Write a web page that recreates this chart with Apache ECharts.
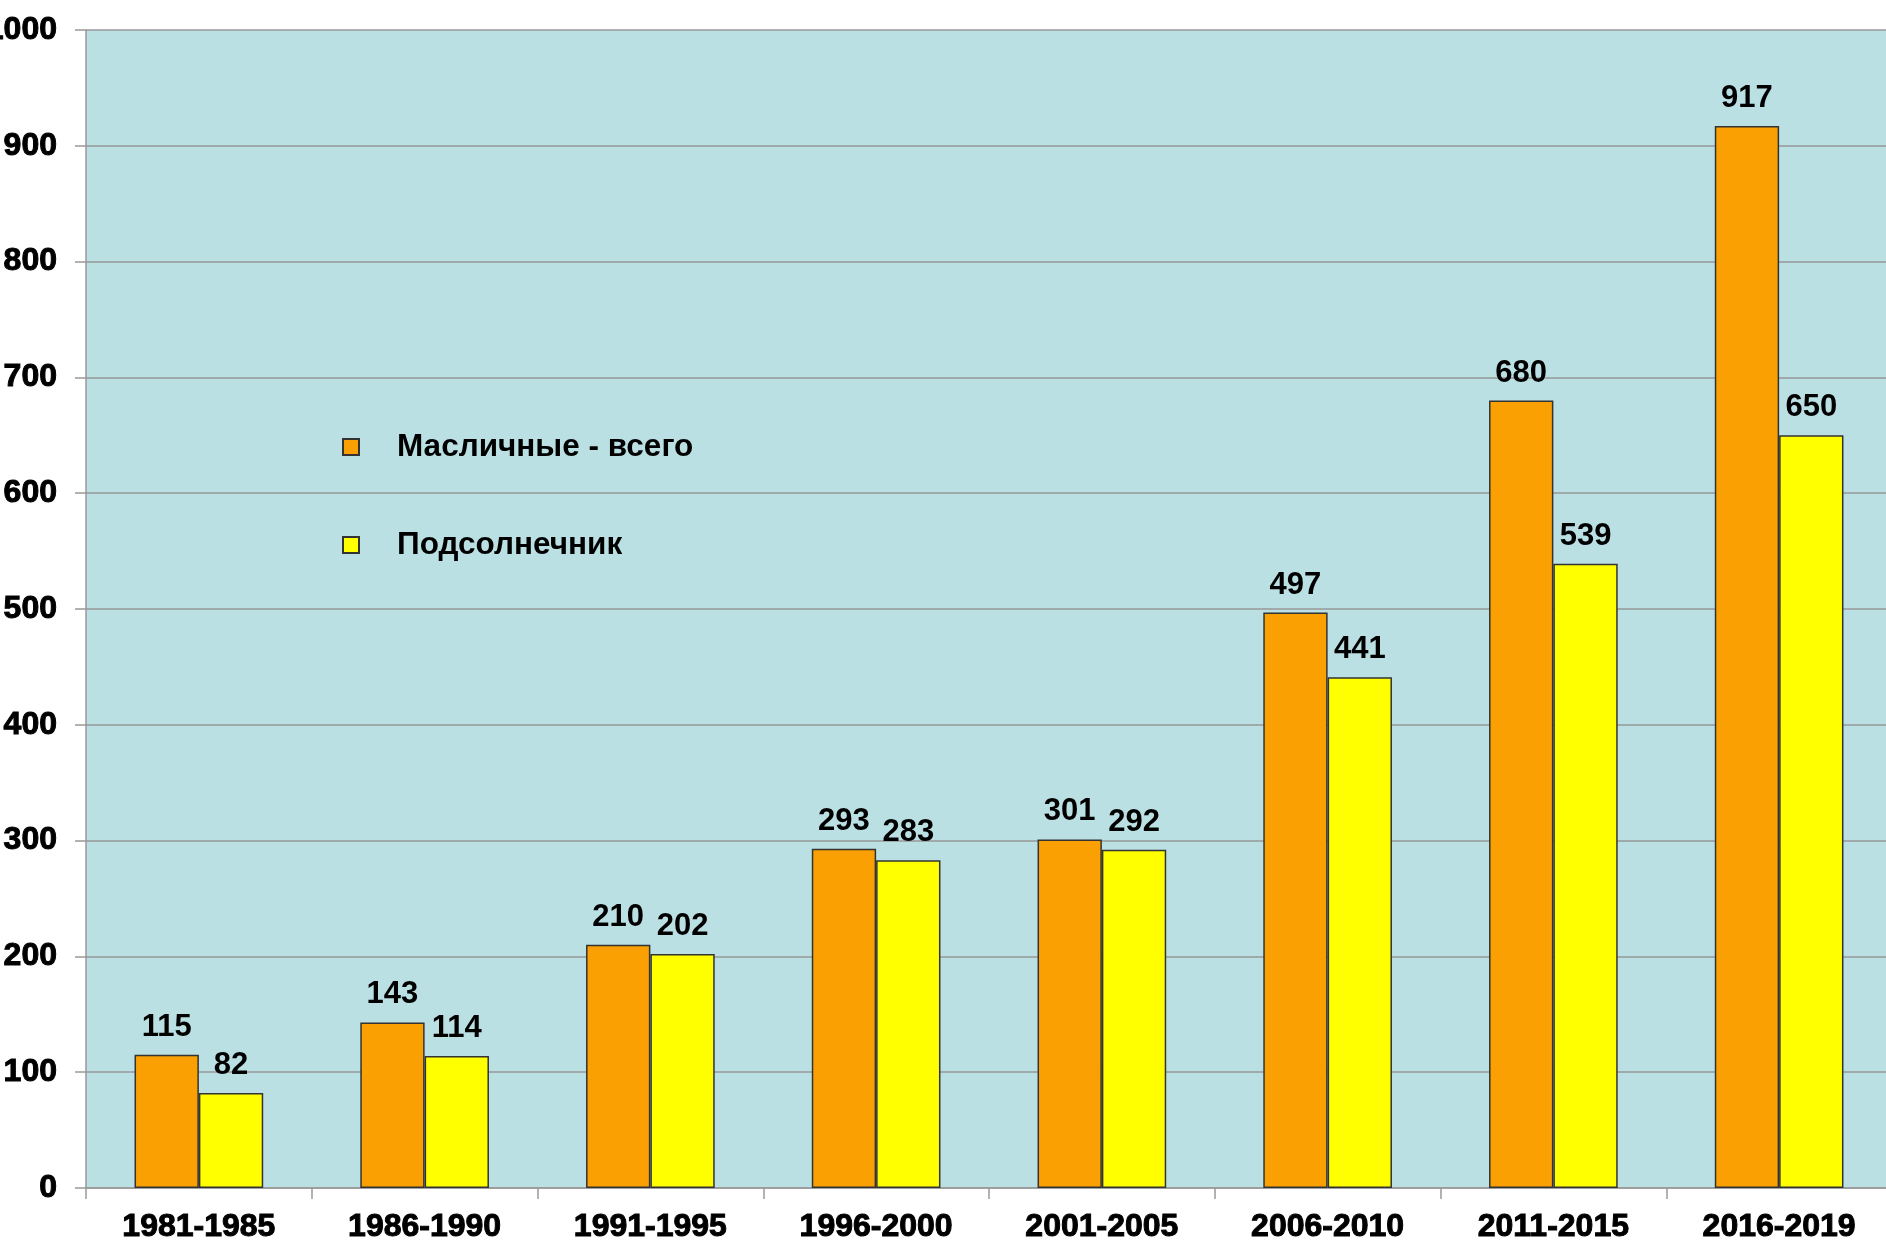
<!DOCTYPE html>
<html>
<head>
<meta charset="utf-8">
<script src="https://cdn.jsdelivr.net/npm/echarts@6/dist/echarts.min.js"></script>
<style>
  html, body { margin: 0; padding: 0; background: #fff; }
  #chart { width: 1886px; height: 1243px; }
</style>
</head>
<body>
<div id="chart"></div>
<script>
// периоды
const periods = ['1981-1985', '1986-1990', '1991-1995', '1996-2000', '2001-2005', '2006-2010', '2011-2015', '2016-2019']
// масличные - всего
const oilseedsTotal = [115, 143, 210, 293, 301, 497, 680, 917]
// подсолнечник
const sunflower = [82, 114, 202, 283, 292, 441, 539, 650]
const seriesNames = ['Масличные - всего', 'Подсолнечник']

const font = 'Liberation Sans, Arial, sans-serif'
const gray = '#999999'

let mycharts = echarts.init(document.getElementById('chart'))
var option = {
  backgroundColor: '#ffffff',
  animation: false,
  grid: {
    left: 86,
    top: 30,
    right: -6,
    bottom: 55,
    outerBoundsMode: 'none',
    show: true,
    backgroundColor: '#BBE0E3',
    borderWidth: 0,
  },
  legend: {
    orient: 'vertical',
    left: 337,
    top: 426,
    icon: 'rect',
    itemWidth: 16,
    itemHeight: 16,
    itemGap: 66,
    data: seriesNames,
    textStyle: {
      fontFamily: font,
      fontWeight: 'bold',
      fontSize: 31.5,
      lineHeight: 32,
      color: '#000',
      padding: [0, 0, 0, 33],
    },
  },
  xAxis: {
    type: 'category',
    data: periods,
    axisLine: { lineStyle: { color: gray, width: 1.5 } },
    axisTick: { show: true, length: 11, interval: 0, lineStyle: { color: gray, width: 1.5 } },
    axisLabel: {
      interval: 0,
      margin: 23,
      fontFamily: font,
      fontWeight: 'bold',
      fontSize: 32,
      lineHeight: 32,
      color: '#000',
      textBorderColor: '#000',
      textBorderWidth: 1,
    },
  },
  yAxis: {
    type: 'value',
    min: 0,
    max: 1000,
    interval: 100,
    axisLine: { show: true, lineStyle: { color: gray, width: 1.5 } },
    axisTick: { show: true, length: 11, lineStyle: { color: gray, width: 1.5 } },
    splitLine: { show: true, lineStyle: { color: gray, width: 1.5 } },
    axisLabel: {
      margin: 29,
      formatter: (v) => String(v),
      fontFamily: font,
      fontWeight: 'bold',
      fontSize: 32,
      color: '#000',
      textBorderColor: '#000',
      textBorderWidth: 1,
    },
  },
  series: [
    {
      name: seriesNames[0],
      type: 'bar',
      data: oilseedsTotal,
      barGap: '0%',
      barCategoryGap: '43%',
      itemStyle: { color: '#FAA002', borderColor: '#333333', borderWidth: 1.5 },
      label: {
        show: true,
        position: 'top',
        distance: 12,
        fontFamily: font,
        fontWeight: 'bold',
        fontSize: 31,
        color: '#000',
      },
    },
    {
      name: seriesNames[1],
      type: 'bar',
      data: sunflower,
      barGap: '0%',
      barCategoryGap: '43%',
      itemStyle: { color: '#FFFF00', borderColor: '#333333', borderWidth: 1.5 },
      label: {
        show: true,
        position: 'top',
        distance: 12,
        fontFamily: font,
        fontWeight: 'bold',
        fontSize: 31,
        color: '#000',
      },
    },
  ],
}
mycharts.setOption(option)
</script>
</body>
</html>
